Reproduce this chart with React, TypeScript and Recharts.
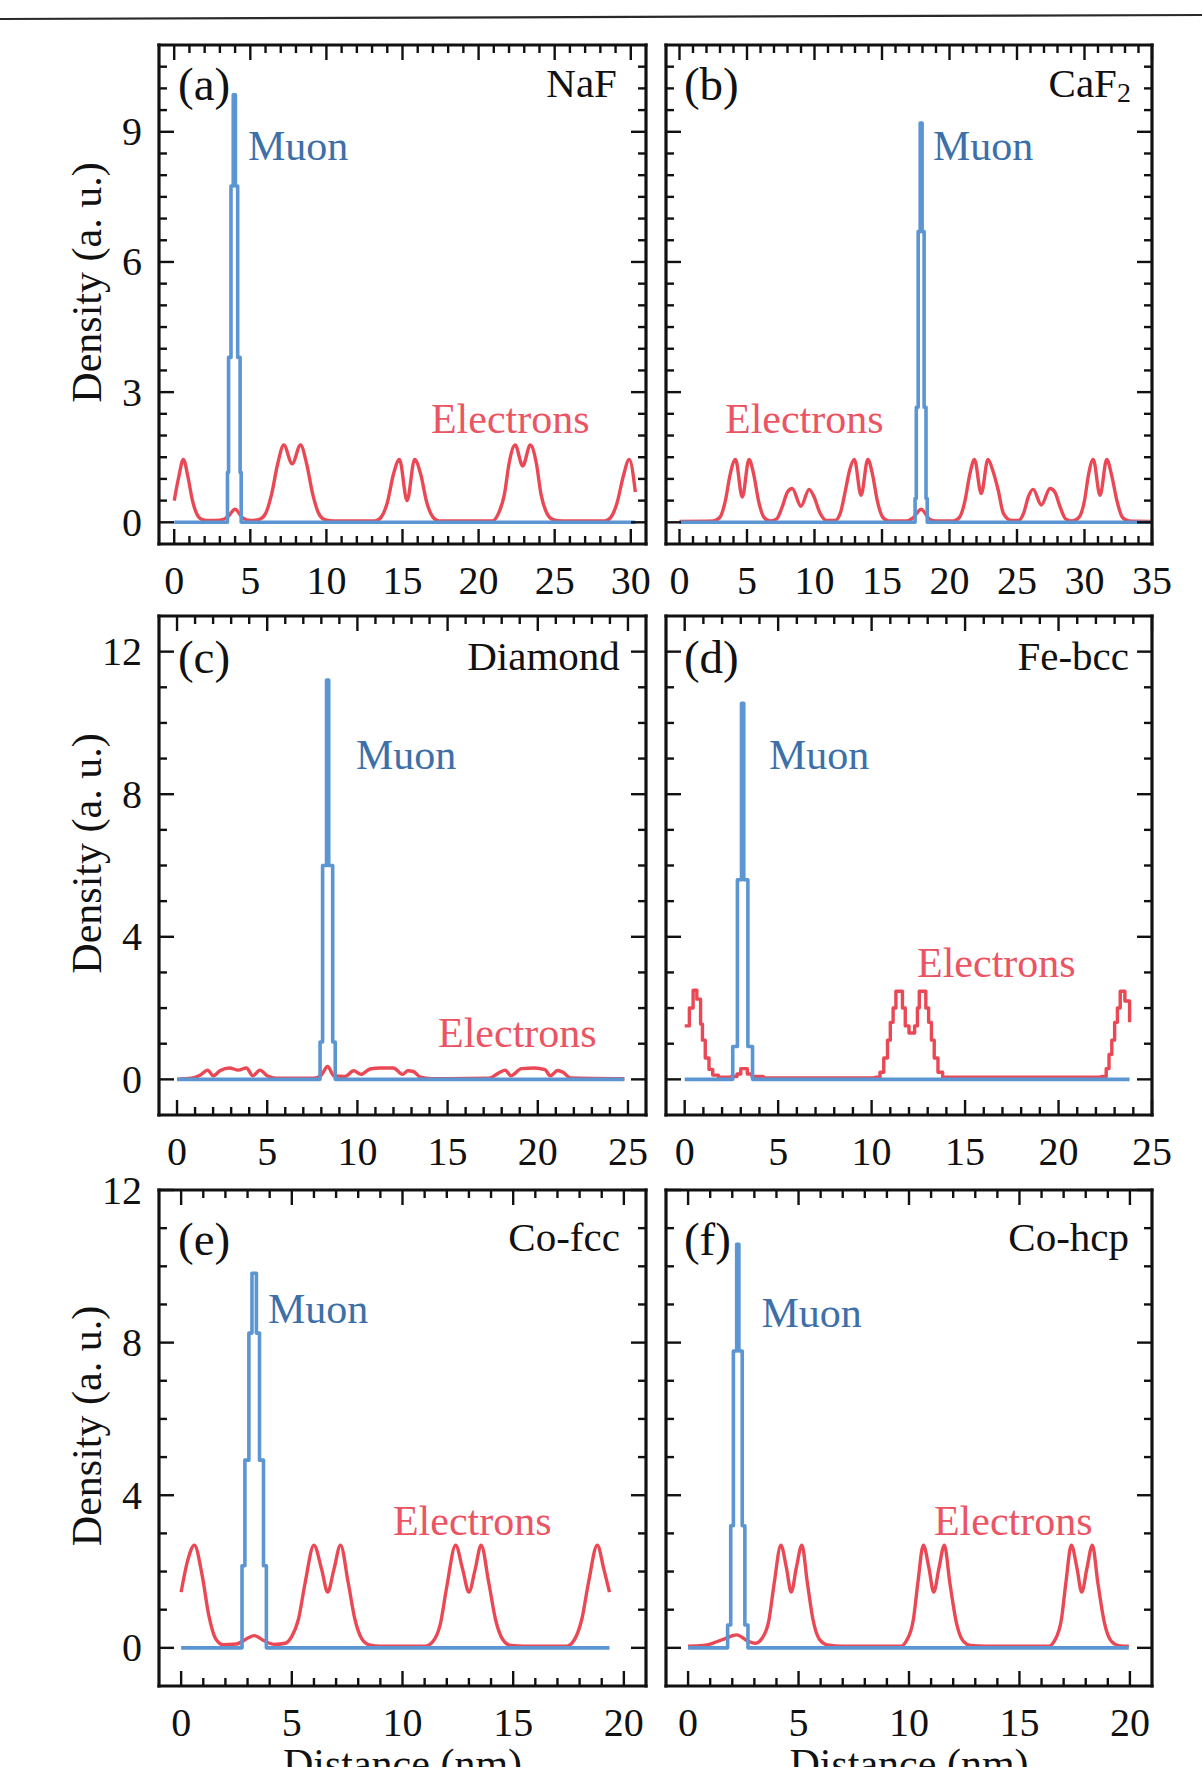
import React from 'react';
import { LineChart, Line, XAxis, YAxis, ReferenceDot } from 'recharts';

const FONT = '"Liberation Serif", "Times New Roman", Times, serif';
const BLUE = '#5b96d2';
const RED = '#ea4855';
const MUON_TEXT = '#3d6fa9';
const ELEC_TEXT = '#eb5563';
const INK = '#111111';

// ---------- tick values ----------
const xTicks30 = [0,1,2,3,4,5,6,7,8,9,10,11,12,13,14,15,16,17,18,19,20,21,22,23,24,25,26,27,28,29,30];
const xTicks35 = [0,1,2,3,4,5,6,7,8,9,10,11,12,13,14,15,16,17,18,19,20,21,22,23,24,25,26,27,28,29,30,31,32,33,34,35];
const xTicks25 = [0,1,2,3,4,5,6,7,8,9,10,11,12,13,14,15,16,17,18,19,20,21,22,23,24,25];
const xTicks20 = [0,1,2,3,4,5,6,7,8,9,10,11,12,13,14,15,16,17,18,19,20];
const xMajor30 = [0,5,10,15,20,25,30];
const xMajor35 = [0,5,10,15,20,25,30,35];
const xMajor25 = [0,5,10,15,20,25];
const xMajor20 = [0,5,10,15,20];
const yTicksHalf = [0,0.5,1,1.5,2,2.5,3,3.5,4,4.5,5,5.5,6,6.5,7,7.5,8,8.5,9,9.5,10,10.5];
const yTicks12 = [0,1,2,3,4,5,6,7,8,9,10,11,12];
const yMajor3 = [0,3,6,9];
const yMajor4 = [0,4,8,12];

// ---------- (a) NaF ----------
const nafElectronX = [0,0.3,0.6,0.9,1.2,1.5,1.8,2.3,3.0,3.5,4.0,4.5,5.0,5.6,6.0,6.4,6.8,7.2,7.75,8.3,8.7,9.1,9.5,9.9,10.5,13.2,13.6,14.0,14.4,14.8,15.3,15.8,16.2,16.6,17.0,17.4,20.9,21.3,21.7,22.0,22.4,22.9,23.4,23.8,24.1,24.5,24.9,25.5,28.3,28.7,29.1,29.5,29.9,30.3];
const nafElectronY = [0.5,1.05,1.45,1.05,0.5,0.18,0.07,0.04,0.05,0.12,0.3,0.1,0.04,0.07,0.2,0.65,1.35,1.78,1.35,1.78,1.35,0.65,0.2,0.06,0.03,0.03,0.12,0.45,1.1,1.45,0.5,1.45,1.1,0.45,0.12,0.03,0.03,0.2,0.65,1.35,1.78,1.3,1.78,1.35,0.65,0.2,0.06,0.03,0.03,0.12,0.45,1.05,1.45,0.7];
const nafMuonX = [0,3.5,3.57,3.73,3.88,4.02,4.17,4.33,4.4,30.3];
const nafMuonY = [0,1.15,3.8,7.75,9.85,7.75,3.8,1.15,0,0];

// ---------- (b) CaF2 ----------
const cafElectronX = [0,2.5,3.0,3.4,3.75,4.15,4.65,5.15,5.5,5.85,6.25,6.7,7.2,7.6,8.0,8.35,9.0,9.6,9.95,10.4,10.9,11.5,11.9,12.3,12.6,12.95,13.45,13.95,14.3,14.65,15.05,15.5,16.8,17.3,17.9,18.5,19.0,20.3,20.75,21.15,21.5,21.85,22.35,22.85,23.2,23.6,24.0,24.6,25.1,25.5,25.85,26.2,26.8,27.45,27.8,28.2,28.6,29.1,29.6,30.0,30.3,30.65,31.15,31.65,32.0,32.4,32.8,33.3,34.9];
const cafElectronY = [0.02,0.03,0.12,0.5,1.1,1.45,0.58,1.45,1.1,0.5,0.12,0.03,0.08,0.35,0.7,0.78,0.37,0.76,0.6,0.22,0.04,0.04,0.2,0.75,1.2,1.45,0.62,1.45,1.1,0.5,0.12,0.03,0.03,0.1,0.3,0.08,0.03,0.03,0.12,0.5,1.1,1.45,0.66,1.45,1.2,0.75,0.2,0.04,0.04,0.22,0.6,0.76,0.4,0.78,0.7,0.35,0.08,0.03,0.12,0.5,1.1,1.45,0.62,1.45,1.1,0.5,0.12,0.03,0.02];
const cafMuonX = [0,17.45,17.54,17.68,17.83,17.97,18.12,18.26,18.35,34.9];
const cafMuonY = [0,0.55,2.65,6.7,9.2,6.7,2.65,0.55,0,0];

// ---------- (c) Diamond ----------
const diaElectronX = [0,0.8,1.3,1.7,2.0,2.4,2.9,3.4,3.85,4.2,4.6,5.0,5.5,7.6,8.0,8.35,8.7,9.3,9.8,10.2,10.7,11.3,12.0,12.5,12.8,13.1,13.5,14.1,17.3,17.9,18.2,18.5,19.1,19.8,20.4,20.7,21.1,21.4,21.8,24.8];
const diaElectronY = [0,0.03,0.12,0.26,0.1,0.25,0.32,0.26,0.32,0.1,0.26,0.1,0.03,0.03,0.12,0.36,0.1,0.08,0.24,0.14,0.29,0.32,0.32,0.14,0.24,0.22,0.06,0.02,0.03,0.2,0.26,0.1,0.3,0.32,0.27,0.1,0.25,0.2,0.04,0.02];
const diaMuonX = [0,7.93,8.07,8.29,8.41,8.63,8.77,24.8];
const diaMuonY = [0,1.05,6.0,11.2,6.0,1.05,0,0];

// ---------- (d) Fe-bcc ----------
const feElectronX = [0,0.25,0.45,0.65,0.85,0.95,1.1,1.3,1.5,1.8,2.5,2.8,3.0,3.35,3.6,4.2,10.2,10.45,10.65,10.85,11.0,11.15,11.3,11.65,11.8,12.0,12.3,12.45,12.55,12.9,13.05,13.2,13.35,13.55,13.8,22.3,22.55,22.7,22.85,23.0,23.15,23.3,23.55,23.8];
const feElectronY = [1.5,2.0,2.5,2.25,1.55,1.1,0.6,0.28,0.12,0.06,0.08,0.15,0.3,0.15,0.08,0.04,0.06,0.2,0.6,1.1,1.6,2.0,2.47,2.0,1.5,1.3,1.5,2.0,2.47,2.0,1.6,1.1,0.6,0.2,0.06,0.08,0.3,0.7,1.1,1.6,2.0,2.47,2.2,1.6];
const feMuonX = [0,2.57,2.82,3.04,3.16,3.38,3.63,23.8];
const feMuonY = [0,0.92,5.6,10.55,5.6,0.92,0,0];

// ---------- (e) Co-fcc ----------
const cofElectronX = [0,0.3,0.6,0.95,1.25,1.55,1.9,2.5,3.0,3.3,3.7,4.2,4.7,5.0,5.3,5.6,6.0,6.35,6.62,6.9,7.2,7.55,7.85,8.15,8.5,9.0,11.0,11.35,11.7,12.0,12.4,12.72,13.0,13.28,13.55,13.9,14.2,14.55,14.9,15.5,17.4,17.75,18.1,18.4,18.8,19.1,19.35];
const cofElectronY = [1.46,2.3,2.69,1.9,0.85,0.25,0.08,0.1,0.25,0.32,0.2,0.09,0.12,0.3,0.75,1.7,2.69,2.05,1.46,2.05,2.69,1.7,0.75,0.25,0.08,0.04,0.04,0.15,0.6,1.6,2.69,2.05,1.46,2.05,2.69,1.7,0.75,0.2,0.06,0.04,0.04,0.2,0.75,1.7,2.69,2.05,1.46];
const cofMuonX = [0,2.75,2.88,3.06,3.2,3.4,3.54,3.72,3.85,19.35];
const cofMuonY = [0,2.15,4.92,8.25,9.82,8.25,4.92,2.15,0,0];

// ---------- (f) Co-hcp ----------
const cohElectronX = [0,0.7,1.3,1.7,2.2,2.7,3.05,3.35,3.65,3.9,4.2,4.45,4.67,4.9,5.15,5.4,5.65,5.95,6.3,7.0,9.6,9.9,10.2,10.4,10.65,10.9,11.12,11.36,11.6,11.85,12.15,12.45,12.8,13.5,16.3,16.6,16.9,17.1,17.35,17.6,17.82,18.06,18.3,18.55,18.85,19.15,19.5,19.95];
const cohElectronY = [0.04,0.06,0.16,0.25,0.34,0.18,0.12,0.25,0.7,1.7,2.69,2.1,1.46,2.1,2.69,1.7,0.75,0.22,0.08,0.04,0.04,0.2,0.75,1.7,2.69,2.1,1.46,2.1,2.69,1.7,0.65,0.18,0.06,0.04,0.04,0.2,0.75,1.7,2.69,2.1,1.46,2.1,2.69,1.7,0.65,0.18,0.06,0.04];
const cohMuonX = [0,1.79,1.93,2.05,2.2,2.3,2.45,2.57,2.71,19.95];
const cohMuonY = [0,0.6,3.2,7.78,10.58,7.78,3.2,0.6,0,0];

type Pt = { x: number; y: number };
const zip = (xs: number[], ys: number[]): Pt[] => xs.map((x, i) => ({ x, y: ys[i] }));

const MAJ = 15;
const MIN = 8;
const TICK_W = 2.4;

function BottomTick(props: any) {
  const { x, y, payload, major } = props;
  const v = payload ? payload.value : 0;
  const isMajor = major.indexOf(v) >= 0;
  return (
    <g>
      <line x1={x} x2={x} y1={y} y2={y - (isMajor ? MAJ : MIN)} stroke={INK} strokeWidth={TICK_W} />
      {isMajor ? (
        <text x={x} y={y + 36} textAnchor="middle" dominantBaseline="central" fontFamily={FONT} fontSize={40} fill={INK}>
          {v}
        </text>
      ) : null}
    </g>
  );
}

function TopTick(props: any) {
  const { x, y, payload, major } = props;
  const v = payload ? payload.value : 0;
  const isMajor = major.indexOf(v) >= 0;
  return <line x1={x} x2={x} y1={y} y2={y + (isMajor ? MAJ : MIN)} stroke={INK} strokeWidth={TICK_W} />;
}

function LeftTick(props: any) {
  const { x, y, payload, major, show } = props;
  const v = payload ? payload.value : 0;
  const isMajor = major.indexOf(v) >= 0;
  return (
    <g>
      <line x1={x} x2={x + (isMajor ? MAJ : MIN)} y1={y} y2={y} stroke={INK} strokeWidth={TICK_W} />
      {isMajor && show ? (
        <text x={x - 17} y={y} textAnchor="end" dominantBaseline="central" fontFamily={FONT} fontSize={40} fill={INK}>
          {v}
        </text>
      ) : null}
    </g>
  );
}

function RightTick(props: any) {
  const { x, y, payload, major } = props;
  const v = payload ? payload.value : 0;
  const isMajor = major.indexOf(v) >= 0;
  return <line x1={x} x2={x - (isMajor ? MAJ : MIN)} y1={y} y2={y} stroke={INK} strokeWidth={TICK_W} />;
}

type Note = { x: number; y: number; text: React.ReactNode; color: string; anchor: 'start' | 'end'; size: number };

type PanelCfg = {
  left: number; top: number; width: number; height: number;
  xDomain: [number, number]; yDomain: [number, number];
  xTicks: number[]; xMajor: number[]; yTicks: number[]; yMajor: number[];
  showYLabels: boolean;
  electrons: Pt[]; muon: Pt[]; electronType: 'monotone' | 'stepAfter';
  notes: Note[];
};

const frameLine = { stroke: INK, strokeWidth: 3.2, strokeLinecap: 'square' as const };
const AX_W = 150;
const TOP_M = 32;
const RIGHT_M = 45;
const X_H = 80;
const EDGE = 2; // size of the top / right frame axes

function Panel({ c }: { c: PanelCfg }) {
  const W = AX_W + c.width + RIGHT_M;
  const H = TOP_M + c.height + X_H;
  return (
    <div style={{ position: 'absolute', left: c.left - AX_W, top: c.top - TOP_M, width: W, height: H }}>
      <LineChart width={W} height={H} margin={{ top: TOP_M - EDGE, right: RIGHT_M - EDGE, bottom: 0, left: 0 }}>
        <XAxis xAxisId="b" dataKey="x" type="number" domain={c.xDomain} allowDataOverflow ticks={c.xTicks} interval={0}
          tickSize={0} tickMargin={0} height={X_H} axisLine={frameLine} tickLine={false}
          tick={(p: any) => <BottomTick {...p} major={c.xMajor} />} />
        <XAxis xAxisId="t" orientation="top" dataKey="x" type="number" domain={c.xDomain} allowDataOverflow ticks={c.xTicks} interval={0}
          tickSize={0} tickMargin={0} height={EDGE} axisLine={frameLine} tickLine={false}
          tick={(p: any) => <TopTick {...p} major={c.xMajor} />} />
        <YAxis yAxisId="l" dataKey="y" type="number" domain={c.yDomain} allowDataOverflow ticks={c.yTicks} interval={0}
          tickSize={0} tickMargin={0} width={AX_W} axisLine={frameLine} tickLine={false}
          tick={(p: any) => <LeftTick {...p} major={c.yMajor} show={c.showYLabels} />} />
        <YAxis yAxisId="r" orientation="right" dataKey="y" type="number" domain={c.yDomain} allowDataOverflow ticks={c.yTicks} interval={0}
          tickSize={0} tickMargin={0} width={EDGE} axisLine={frameLine} tickLine={false}
          tick={(p: any) => <RightTick {...p} major={c.yMajor} />} />
        <Line xAxisId="b" yAxisId="l" data={c.electrons} dataKey="y" type={c.electronType} stroke={RED} strokeWidth={3.4}
          dot={false} activeDot={false} isAnimationActive={false} strokeLinejoin="round" />
        <Line xAxisId="b" yAxisId="l" data={c.muon} dataKey="y" type="stepAfter" stroke={BLUE} strokeWidth={3.6}
          dot={false} activeDot={false} isAnimationActive={false} strokeLinejoin="round" />
        {c.notes.map((n, i) => (
          <ReferenceDot key={i} xAxisId="b" yAxisId="l" x={n.x} y={n.y} r={1}
            shape={(p: any) => (
              <text x={p.cx} y={p.cy} textAnchor={n.anchor} dominantBaseline="central" fontFamily={FONT} fontSize={n.size} fill={n.color}>
                {n.text}
              </text>
            )} />
        ))}
      </LineChart>
    </div>
  );
}

const colL = 159, colLW = 487;
const colR = 666, colRW = 486;
const row1 = 45, row1H = 499;
const row2 = 616, row2H = 499;
const row3 = 1190, row3H = 496;

const caf2 = (
  <tspan>
    CaF<tspan fontSize={28} dy={9}>2</tspan>
  </tspan>
);

const panels: PanelCfg[] = [
  {
    left: colL, top: row1, width: colLW, height: row1H, xDomain: [-1, 31], yDomain: [-0.5, 11],
    xTicks: xTicks30, xMajor: xMajor30, yTicks: yTicksHalf, yMajor: yMajor3, showYLabels: true,
    electrons: zip(nafElectronX, nafElectronY), muon: zip(nafMuonX, nafMuonY), electronType: 'monotone',
    notes: [
      { x: 0.25, y: 10.09, text: '(a)', color: INK, anchor: 'start', size: 47 },
      { x: 29.09, y: 10.12, text: 'NaF', color: INK, anchor: 'end', size: 41 },
      { x: 4.85, y: 8.67, text: 'Muon', color: MUON_TEXT, anchor: 'start', size: 42 },
      { x: 16.87, y: 2.38, text: 'Electrons', color: ELEC_TEXT, anchor: 'start', size: 42 },
    ],
  },
  {
    left: colR, top: row1, width: colRW, height: row1H, xDomain: [-1, 35], yDomain: [-0.5, 11],
    xTicks: xTicks35, xMajor: xMajor35, yTicks: yTicksHalf, yMajor: yMajor3, showYLabels: false,
    electrons: zip(cafElectronX, cafElectronY), muon: zip(cafMuonX, cafMuonY), electronType: 'monotone',
    notes: [
      { x: 0.33, y: 10.09, text: '(b)', color: INK, anchor: 'start', size: 47 },
      { x: 33.44, y: 10.12, text: caf2, color: INK, anchor: 'end', size: 41 },
      { x: 18.78, y: 8.67, text: 'Muon', color: MUON_TEXT, anchor: 'start', size: 42 },
      { x: 3.37, y: 2.38, text: 'Electrons', color: ELEC_TEXT, anchor: 'start', size: 42 },
    ],
  },
  {
    left: colL, top: row2, width: colLW, height: row2H, xDomain: [-1, 26], yDomain: [-1, 13],
    xTicks: xTicks25, xMajor: xMajor25, yTicks: yTicks12, yMajor: yMajor4, showYLabels: true,
    electrons: zip(diaElectronX, diaElectronY), muon: zip(diaMuonX, diaMuonY), electronType: 'monotone',
    notes: [
      { x: 0.05, y: 11.85, text: '(c)', color: INK, anchor: 'start', size: 47 },
      { x: 24.55, y: 11.88, text: 'Diamond', color: INK, anchor: 'end', size: 41 },
      { x: 9.92, y: 9.1, text: 'Muon', color: MUON_TEXT, anchor: 'start', size: 42 },
      { x: 14.47, y: 1.3, text: 'Electrons', color: ELEC_TEXT, anchor: 'start', size: 42 },
    ],
  },
  {
    left: colR, top: row2, width: colRW, height: row2H, xDomain: [-1, 25], yDomain: [-1, 13],
    xTicks: xTicks25, xMajor: xMajor25, yTicks: yTicks12, yMajor: yMajor4, showYLabels: false,
    electrons: zip(feElectronX, feElectronY), muon: zip(feMuonX, feMuonY), electronType: 'stepAfter',
    notes: [
      { x: -0.04, y: 11.85, text: '(d)', color: INK, anchor: 'start', size: 47 },
      { x: 23.77, y: 11.88, text: 'Fe-bcc', color: INK, anchor: 'end', size: 41 },
      { x: 4.51, y: 9.1, text: 'Muon', color: MUON_TEXT, anchor: 'start', size: 42 },
      { x: 12.43, y: 3.26, text: 'Electrons', color: ELEC_TEXT, anchor: 'start', size: 42 },
    ],
  },
  {
    left: colL, top: row3, width: colLW, height: row3H, xDomain: [-1, 21], yDomain: [-1, 12],
    xTicks: xTicks20, xMajor: xMajor20, yTicks: yTicks12, yMajor: yMajor4, showYLabels: true,
    electrons: zip(cofElectronX, cofElectronY), muon: zip(cofMuonX, cofMuonY), electronType: 'monotone',
    notes: [
      { x: -0.14, y: 10.72, text: '(e)', color: INK, anchor: 'start', size: 47 },
      { x: 19.82, y: 10.77, text: 'Co-fcc', color: INK, anchor: 'end', size: 41 },
      { x: 3.92, y: 8.88, text: 'Muon', color: MUON_TEXT, anchor: 'start', size: 42 },
      { x: 9.57, y: 3.32, text: 'Electrons', color: ELEC_TEXT, anchor: 'start', size: 42 },
    ],
  },
  {
    left: colR, top: row3, width: colRW, height: row3H, xDomain: [-1, 21], yDomain: [-1, 12],
    xTicks: xTicks20, xMajor: xMajor20, yTicks: yTicks12, yMajor: yMajor4, showYLabels: false,
    electrons: zip(cohElectronX, cohElectronY), muon: zip(cohMuonX, cohMuonY), electronType: 'monotone',
    notes: [
      { x: -0.19, y: 10.72, text: '(f)', color: INK, anchor: 'start', size: 47 },
      { x: 19.96, y: 10.77, text: 'Co-hcp', color: INK, anchor: 'end', size: 41 },
      { x: 3.32, y: 8.78, text: 'Muon', color: MUON_TEXT, anchor: 'start', size: 42 },
      { x: 11.13, y: 3.32, text: 'Electrons', color: ELEC_TEXT, anchor: 'start', size: 42 },
    ],
  },
];

const yTitleRows = [row1 + row1H / 2 - 12, row2 + row2H / 2 - 12, row3 + row3H / 2 - 12];
const xTitleCols = [colL + colLW / 2, colR + colRW / 2];

export default function App() {
  return (
    <div style={{ position: 'absolute', left: 0, top: 0, width: 1202, height: 1767, overflow: 'hidden', background: '#ffffff' }}>
      <svg width={1202} height={1767} style={{ position: 'absolute', left: 0, top: 0 }}>
        <line x1={0} y1={19} x2={1202} y2={15} stroke="#2a2a2a" strokeWidth={2.2} />
        {yTitleRows.map((cy, i) => (
          <text key={'y' + i} x={87} y={cy} transform={`rotate(-90 87 ${cy})`} textAnchor="middle" dominantBaseline="central"
            fontFamily={FONT} fontSize={42} fill={INK}>
            Density (a. u.)
          </text>
        ))}
        {xTitleCols.map((cx, i) => (
          <text key={'x' + i} x={cx} y={1778} textAnchor="middle" fontFamily={FONT} fontSize={42} fill={INK}>
            Distance (nm)
          </text>
        ))}
      </svg>
      {panels.map((p, i) => (
        <Panel key={i} c={p} />
      ))}
    </div>
  );
}
